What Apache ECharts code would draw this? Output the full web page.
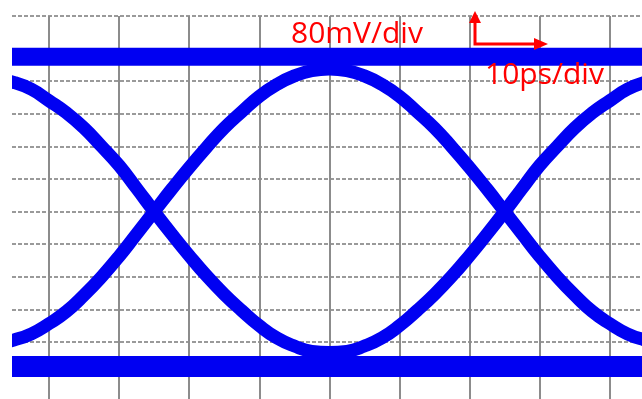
<!DOCTYPE html>
<html>
<head>
<meta charset="utf-8">
<script src="https://cdn.jsdelivr.net/npm/echarts@6/dist/echarts.min.js"></script>
<style>
html,body{margin:0;padding:0;background:#fff;}
#chart{width:642px;height:399px;}
</style>
</head>
<body>
<div id="chart"></div>
<script>
// Time axis (ps), 10 ps/div
const timePs = [-7.5, -5, -2.5, 0, 2.5, 5, 7.5, 10, 12.5, 15, 17.5, 20, 22.5, 25, 27.5, 30, 32.5, 35, 37.5, 40,
  42.5, 45, 47.5, 50, 52.5, 55, 57.5, 60, 62.5, 65, 67.5, 70, 72.5, 75, 77.5, 80, 82.5, 85, 87.5];
// Rising-then-falling trace (upper eye boundary), mV
const upperTraceMv = [-325, -315, -300, -275, -245, -205, -160, -110, -55, 0, 55, 108, 158, 205, 245, 283, 312, 333, 346, 350,
  346, 333, 312, 283, 245, 205, 158, 108, 55, 0, -55, -110, -160, -205, -245, -275, -300, -315, -325];
// Falling-then-rising trace (lower eye boundary), mV
const lowerTraceMv = [325, 317, 300, 272, 242, 205, 160, 113, 57, 0, -55, -108, -158, -203, -243, -280, -310, -330, -343, -346,
  -343, -330, -310, -280, -243, -203, -158, -108, -55, 0, 57, 113, 160, 205, 242, 272, 300, 317, 325];
// Steady logic levels (rails), mV
const railTimePs = [-7.5, 87.5];
const highRailMv = [380, 380];
const lowRailMv = [-380, -380];
// Labels
const voltLabel = '80mV/div';
const timeLabel = '10ps/div';

const pair = (xs, ys) => xs.map((x, i) => [x, ys[i]]);
const blue = '#0000f2';
const chart = echarts.init(document.getElementById('chart'));
chart.setOption({
  animation: false,
  backgroundColor: '#ffffff',
  grid: { left: 12, right: 0, top: 16, bottom: 0, containLabel: false },
  xAxis: {
    type: 'value', min: -5.28, max: 84.6, minInterval: 10, maxInterval: 10,
    axisLine: { show: false }, axisTick: { show: false }, axisLabel: { show: false },
    splitLine: { show: true, showMinLine: false, showMaxLine: false, lineStyle: { color: '#8c8c8c', width: 2 } }
  },
  yAxis: {
    type: 'value', min: -460, max: 480, minInterval: 80, maxInterval: 80,
    axisLine: { show: false }, axisTick: { show: false }, axisLabel: { show: false },
    splitLine: { show: true, showMinLine: false, showMaxLine: true, lineStyle: { color: '#9a9a9a', width: 2, type: [4, 2] } }
  },
  series: [
    { type: 'line', data: pair(railTimePs, highRailMv), showSymbol: false, lineStyle: { color: blue, width: 18 }, silent: true },
    { type: 'line', data: pair(railTimePs, lowRailMv), showSymbol: false, lineStyle: { color: blue, width: 21 }, silent: true },
    { type: 'line', data: pair(timePs, upperTraceMv), smooth: true, showSymbol: false, lineStyle: { color: blue, width: 13 }, silent: true },
    { type: 'line', data: pair(timePs, lowerTraceMv), smooth: true, showSymbol: false, lineStyle: { color: blue, width: 13 }, silent: true }
  ],
  graphic: [
    { type: 'rect', z: 90, shape: { x: 0, y: 0, width: 12, height: 399 }, style: { fill: '#ffffff' } },
    { type: 'text', left: 291, top: 19, z: 100, style: { text: voltLabel, font: '30px "Open Sans"', fill: '#ff0000' } },
    { type: 'text', left: 485, top: 60, z: 100, style: { text: timeLabel, font: '30px "Open Sans"', fill: '#ff0000' } },
    { type: 'polyline', z: 100, shape: { points: [[475, 22], [475, 44], [536, 44]] }, style: { stroke: '#ff0000', lineWidth: 3, fill: null } },
    { type: 'polygon', z: 100, shape: { points: [[475, 11], [469, 23], [481, 23]] }, style: { fill: '#ff0000' } },
    { type: 'polygon', z: 100, shape: { points: [[548, 44], [534, 38], [534, 50]] }, style: { fill: '#ff0000' } }
  ]
});
</script>
</body>
</html>
